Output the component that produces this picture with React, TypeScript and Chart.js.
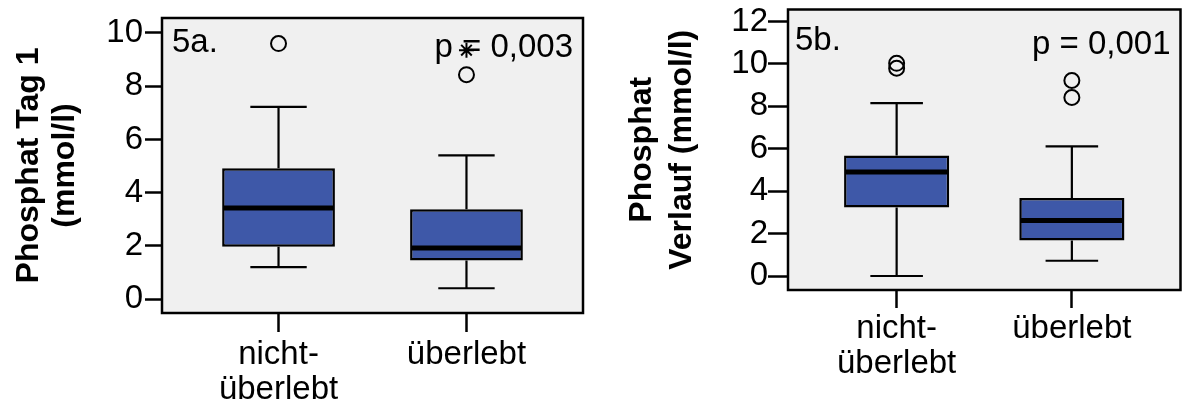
import React, { useEffect, useRef } from 'react';
import { Chart, registerables } from 'chart.js';

Chart.register(...registerables);

// ---------- data ----------
const categoryLabels = [['nicht-', 'überlebt'], ['überlebt']];
const categoryPositions = [1, 2];

// Panel 5a – Phosphat Tag 1 (mmol/l)
const minA = [1.2, 0.41];
const q1A = [1.97, 1.45];
const medianA = [3.42, 1.92];
const q3A = [4.92, 3.38];
const maxA = [7.22, 5.4];
const outliersA = [[9.6], [8.43]];
const extremesA = [[], [9.35]];
const yTicksA = [0, 2, 4, 6, 8, 10];

// Panel 5b – Phosphat Verlauf (mmol/l)
const minB = [0, 0.72];
const q1B = [3.23, 1.68];
const medianB = [4.91, 2.62];
const q3B = [5.68, 3.68];
const maxB = [8.15, 6.11];
const outliersB = [[9.8, 10.03], [8.42, 9.22]];
const extremesB = [[], []];
const yTicksB = [0, 2, 4, 6, 8, 10, 12];

const FONT = '"Liberation Sans", Arial, Helvetica, sans-serif';
const BOX_FILL = '#3e58a8';
const PANEL_BG = '#f0f0f0';

type Panel = {
  tag: string;
  pText: string;
  yTitle: string[];
  titleSize: number;
  titleLineHeight: number;
  yMin: number;
  yMax: number;
  yTicks: number[];
  min: number[];
  q1: number[];
  med: number[];
  q3: number[];
  max: number[];
  outliers: number[][];
  extremes: number[][];
  width: number;
  padLeft: number;
  padRight: number;
  padTop: number;
  yAxisWidth: number;
  xAxisHeight: number;
  yTickLength: number;
  yTickPadding: number;
  xTickLength: number;
  xTickPadding: number;
  tagOffset: [number, number];
  pOffset: [number, number];
};

const panelA: Panel = {
  tag: '5a.',
  pText: 'p = 0,003',
  yTitle: ['Phosphat Tag 1', '(mmol/l)'],
  titleSize: 32,
  titleLineHeight: 1.1,
  yMin: -0.52,
  yMax: 10.56,
  yTicks: yTicksA,
  min: minA,
  q1: q1A,
  med: medianA,
  q3: q3A,
  max: maxA,
  outliers: outliersA,
  extremes: extremesA,
  width: 600,
  padLeft: 12,
  padRight: 17,
  padTop: 18,
  yAxisWidth: 150,
  xAxisHeight: 96,
  yTickLength: 17,
  yTickPadding: 2,
  xTickLength: 19,
  xTickPadding: 5,
  tagOffset: [10, 34],
  pOffset: [10, 39],
};

const panelB: Panel = {
  tag: '5b.',
  pText: 'p = 0,001',
  yTitle: ['Phosphat', 'Verlauf (mmol/l)'],
  titleSize: 32,
  titleLineHeight: 1.25,
  yMin: -0.66,
  yMax: 12.57,
  yTicks: yTicksB,
  min: minB,
  q1: q1B,
  med: medianB,
  q3: q3B,
  max: maxB,
  outliers: outliersB,
  extremes: extremesB,
  width: 590,
  padLeft: 22,
  padRight: 2,
  padTop: 3,
  yAxisWidth: 166,
  xAxisHeight: 119,
  yTickLength: 20,
  yTickPadding: 0,
  xTickLength: 18,
  xTickPadding: 3,
  tagOffset: [7, 40],
  pOffset: [10, 44],
};

const boxPlugin = {
  id: 'boxWhiskers',
  beforeDraw(chart: any) {
    const { ctx, chartArea } = chart;
    ctx.save();
    ctx.fillStyle = PANEL_BG;
    ctx.fillRect(chartArea.left, chartArea.top, chartArea.right - chartArea.left, chartArea.bottom - chartArea.top);
    ctx.restore();
  },
  beforeDatasetsDraw(chart: any, _args: any, opts: any) {
    const { ctx } = chart;
    const y = chart.scales.y;
    const meta = chart.getDatasetMeta(0);
    ctx.save();
    ctx.strokeStyle = '#000';
    ctx.lineWidth = 2.2;
    meta.data.forEach((bar: any, i: number) => {
      const { x, width } = bar.getProps(['x', 'width'], true);
      const cap = width / 4;
      const yMax = y.getPixelForValue(opts.max[i]);
      const yQ3 = y.getPixelForValue(opts.q3[i]);
      const yMin = y.getPixelForValue(opts.min[i]);
      const yQ1 = y.getPixelForValue(opts.q1[i]);
      ctx.beginPath();
      ctx.moveTo(x, yQ3);
      ctx.lineTo(x, yMax);
      ctx.moveTo(x - cap, yMax);
      ctx.lineTo(x + cap, yMax);
      ctx.moveTo(x, yQ1);
      ctx.lineTo(x, yMin);
      ctx.moveTo(x - cap, yMin);
      ctx.lineTo(x + cap, yMin);
      ctx.stroke();
    });
    ctx.restore();
  },
  afterDatasetsDraw(chart: any, _args: any, opts: any) {
    const { ctx } = chart;
    const y = chart.scales.y;
    const meta = chart.getDatasetMeta(0);
    ctx.save();
    ctx.strokeStyle = '#000';
    ctx.lineWidth = 5;
    meta.data.forEach((bar: any, i: number) => {
      const { x, width } = bar.getProps(['x', 'width'], true);
      const ym = y.getPixelForValue(opts.med[i]);
      ctx.beginPath();
      ctx.moveTo(x - width / 2 + 1, ym);
      ctx.lineTo(x + width / 2 - 1, ym);
      ctx.stroke();
    });
    ctx.restore();
  },
  afterDraw(chart: any, _args: any, opts: any) {
    const { ctx, chartArea } = chart;
    ctx.save();
    ctx.strokeStyle = '#000';
    ctx.lineWidth = 2.5;
    ctx.strokeRect(chartArea.left, chartArea.top, chartArea.right - chartArea.left, chartArea.bottom - chartArea.top);
    ctx.fillStyle = '#000';
    ctx.font = `33px ${FONT}`;
    ctx.textBaseline = 'alphabetic';
    ctx.textAlign = 'left';
    ctx.fillText(opts.tag, chartArea.left + opts.tagOffset[0], chartArea.top + opts.tagOffset[1]);
    ctx.textAlign = 'right';
    ctx.fillText(opts.pText, chartArea.right - opts.pOffset[0], chartArea.top + opts.pOffset[1]);
    ctx.restore();
  },
};

function buildConfig(p: Panel): any {
  const outlierPts: { x: number; y: number }[] = [];
  p.outliers.forEach((vals, i) => vals.forEach((v) => outlierPts.push({ x: categoryPositions[i], y: v })));
  const extremePts: { x: number; y: number }[] = [];
  p.extremes.forEach((vals, i) => vals.forEach((v) => extremePts.push({ x: categoryPositions[i], y: v })));

  return {
    type: 'bar',
    data: {
      datasets: [
        {
          type: 'bar',
          data: p.q1.map((v, i) => ({ x: categoryPositions[i], y: [v, p.q3[i]] })),
          backgroundColor: BOX_FILL,
          borderColor: '#000',
          borderWidth: 2.5,
          borderSkipped: false,
          barPercentage: 0.6,
          categoryPercentage: 1,
        },
        {
          type: 'scatter',
          data: outlierPts,
          pointStyle: 'circle',
          pointRadius: 7.5,
          pointBorderWidth: 2,
          pointBorderColor: '#000',
          pointBackgroundColor: 'rgba(0,0,0,0)',
        },
        {
          type: 'scatter',
          data: extremePts,
          pointStyle: 'star',
          pointRadius: 7.5,
          pointBorderWidth: 2,
          pointBorderColor: '#000',
          pointBackgroundColor: 'rgba(0,0,0,0)',
        },
      ],
    },
    options: {
      animation: false,
      responsive: false,
      maintainAspectRatio: false,
      devicePixelRatio: 1,
      layout: { padding: { left: p.padLeft, right: p.padRight, top: p.padTop, bottom: 0 } },
      plugins: {
        legend: { display: false },
        tooltip: { enabled: false },
        boxWhiskers: {
          min: p.min,
          q1: p.q1,
          med: p.med,
          q3: p.q3,
          max: p.max,
          tag: p.tag,
          pText: p.pText,
          tagOffset: p.tagOffset,
          pOffset: p.pOffset,
        },
      },
      scales: {
        x: {
          type: 'linear',
          min: 0.38,
          max: 2.62,
          offset: false,
          afterBuildTicks: (s: any) => {
            s.ticks = categoryPositions.map((v) => ({ value: v }));
          },
          afterFit: (s: any) => {
            s.height = p.xAxisHeight;
            s.paddingLeft = 0;
            s.paddingRight = 0;
          },
          ticks: {
            autoSkip: false,
            maxRotation: 0,
            minRotation: 0,
            color: '#000',
            padding: p.xTickPadding,
            font: { family: FONT, size: 33, lineHeight: 1.06 },
            callback: (value: number) => categoryLabels[categoryPositions.indexOf(value)],
          },
          grid: {
            offset: false,
            drawOnChartArea: false,
            drawTicks: true,
            tickLength: p.xTickLength,
            tickWidth: 2.5,
            tickColor: '#000',
            color: '#000',
          },
          border: { display: false },
        },
        y: {
          type: 'linear',
          min: p.yMin,
          max: p.yMax,
          afterBuildTicks: (s: any) => {
            s.ticks = p.yTicks.map((v) => ({ value: v }));
          },
          afterFit: (s: any) => {
            s.width = p.yAxisWidth;
            s.paddingTop = 0;
            s.paddingBottom = 0;
          },
          ticks: {
            color: '#000',
            padding: p.yTickPadding,
            font: { family: FONT, size: 33 },
          },
          grid: {
            offset: false,
            drawOnChartArea: false,
            drawTicks: true,
            tickLength: p.yTickLength,
            tickWidth: 2.5,
            tickColor: '#000',
            color: '#000',
          },
          border: { display: false },
          title: {
            display: true,
            text: p.yTitle,
            color: '#000',
            padding: { top: 0, bottom: 0 },
            font: { family: FONT, size: p.titleSize, weight: 'bold', lineHeight: p.titleLineHeight },
          },
        },
      },
    },
    plugins: [boxPlugin],
  };
}

function BoxPanel({ panel, left }: { panel: Panel; left: number }) {
  const ref = useRef<HTMLCanvasElement | null>(null);
  useEffect(() => {
    if (!ref.current) return;
    const chart = new Chart(ref.current, buildConfig(panel));
    return () => chart.destroy();
  }, [panel]);
  return (
    <canvas
      ref={ref}
      width={panel.width}
      height={409}
      style={{ position: 'absolute', left, top: 0, width: panel.width, height: 409 }}
    />
  );
}

export default function App() {
  return (
    <div
      style={{
        position: 'fixed',
        left: 0,
        top: 0,
        width: 1187,
        height: 409,
        overflow: 'hidden',
        background: '#fff',
      }}
    >
      <BoxPanel panel={panelA} left={0} />
      <BoxPanel panel={panelB} left={600} />
    </div>
  );
}
